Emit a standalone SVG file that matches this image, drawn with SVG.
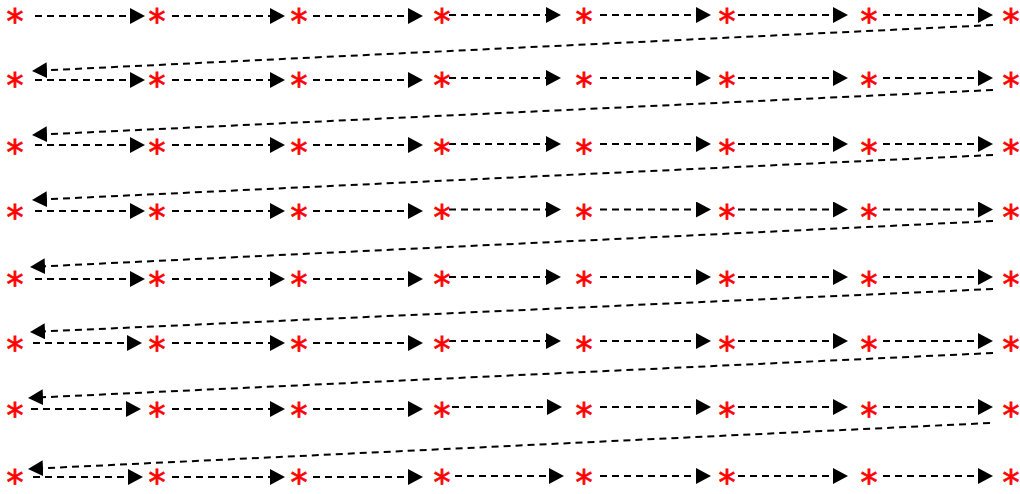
<svg xmlns="http://www.w3.org/2000/svg" width="1020" height="494" viewBox="0 0 1020 494">
<style>
.n text{font-family:"DejaVu Sans",sans-serif;font-size:34px;fill:#ff0000;stroke:#ff0000;stroke-width:0.8;text-anchor:middle}
#edges line{stroke:#000;stroke-width:2;stroke-dasharray:7 5;fill:none;marker-end:url(#ah)}
</style>
<defs>
<marker id="ah" markerUnits="userSpaceOnUse" markerWidth="16" markerHeight="16" viewBox="0 0 16 16" refX="1" refY="8" orient="auto"><path d="M0,0 L15,8 L0,16 z" fill="#000"/></marker>
</defs>
<rect width="1020" height="494" fill="#fff"/>
<g id="edges">
<line x1="35" y1="16" x2="131" y2="16"/><line x1="172" y1="16" x2="271" y2="16"/><line x1="313" y1="16" x2="409" y2="16"/><line x1="449" y1="15" x2="547" y2="15"/><line x1="600" y1="15" x2="697" y2="15"/><line x1="738" y1="15" x2="834" y2="15"/><line x1="883" y1="15" x2="979" y2="15"/>
<line x1="993" y1="25" x2="46" y2="70.3"/>
<line x1="35" y1="80" x2="131" y2="80"/><line x1="172" y1="80" x2="271" y2="80"/><line x1="313" y1="80" x2="409" y2="80"/><line x1="449" y1="78" x2="547" y2="78"/><line x1="600" y1="78" x2="697" y2="78"/><line x1="738" y1="78" x2="834" y2="78"/><line x1="883" y1="78" x2="979" y2="78"/>
<line x1="993" y1="90" x2="46" y2="134.3"/>
<line x1="35" y1="145" x2="131" y2="145"/><line x1="172" y1="145" x2="271" y2="145"/><line x1="313" y1="145" x2="409" y2="145"/><line x1="449" y1="144" x2="547" y2="144"/><line x1="600" y1="144" x2="697" y2="144"/><line x1="738" y1="144" x2="834" y2="144"/><line x1="883" y1="144" x2="979" y2="144"/>
<line x1="993" y1="155" x2="46" y2="199.3"/>
<line x1="35" y1="211" x2="131" y2="211"/><line x1="172" y1="211" x2="271" y2="211"/><line x1="313" y1="211" x2="409" y2="211"/><line x1="449" y1="209.5" x2="547" y2="209.5"/><line x1="600" y1="209.5" x2="697" y2="209.5"/><line x1="738" y1="209.5" x2="834" y2="209.5"/><line x1="883" y1="209.5" x2="979" y2="209.5"/>
<line x1="993" y1="221" x2="44" y2="266.3"/>
<line x1="35" y1="279" x2="131" y2="279"/><line x1="172" y1="279" x2="271" y2="279"/><line x1="313" y1="279" x2="409" y2="279"/><line x1="449" y1="277" x2="547" y2="277"/><line x1="600" y1="277" x2="697" y2="277"/><line x1="738" y1="277" x2="834" y2="277"/><line x1="883" y1="277" x2="979" y2="277"/>
<line x1="993" y1="289" x2="44" y2="331.4"/>
<line x1="33" y1="343" x2="128" y2="343"/><line x1="172" y1="343" x2="271" y2="343"/><line x1="313" y1="343" x2="409" y2="343"/><line x1="449" y1="341" x2="547" y2="341"/><line x1="600" y1="341" x2="697" y2="341"/><line x1="738" y1="341" x2="834" y2="341"/><line x1="883" y1="341" x2="979" y2="341"/>
<line x1="993" y1="353" x2="42" y2="397.3"/>
<line x1="31" y1="409" x2="127" y2="409"/><line x1="172" y1="409" x2="271" y2="409"/><line x1="313" y1="409" x2="409" y2="409"/><line x1="452" y1="407" x2="548" y2="407"/><line x1="600" y1="407" x2="697" y2="407"/><line x1="738" y1="407" x2="834" y2="407"/><line x1="883" y1="407" x2="979" y2="407"/>
<line x1="990" y1="423" x2="42" y2="468.3"/>
<line x1="33" y1="477" x2="129" y2="477"/><line x1="172" y1="477" x2="271" y2="477"/><line x1="313" y1="477" x2="409" y2="477"/><line x1="455" y1="476" x2="550" y2="476"/><line x1="600" y1="476" x2="697" y2="476"/><line x1="738" y1="476" x2="834" y2="476"/><line x1="883" y1="476" x2="979" y2="476"/>
</g>
<g id="r1" class="n"><g id="n1_1"><text x="15" y="33">*</text></g><g id="n1_2"><text x="157" y="33">*</text></g><g id="n1_3"><text x="299" y="33">*</text></g><g id="n1_4"><text x="442" y="33">*</text></g><g id="n1_5"><text x="584" y="33">*</text></g><g id="n1_6"><text x="727" y="33">*</text></g><g id="n1_7"><text x="869" y="33">*</text></g><g id="n1_8"><text x="1011" y="33">*</text></g></g>
<g id="r2" class="n"><g id="n2_1"><text x="15" y="97">*</text></g><g id="n2_2"><text x="157" y="97">*</text></g><g id="n2_3"><text x="299" y="97">*</text></g><g id="n2_4"><text x="442" y="97">*</text></g><g id="n2_5"><text x="584" y="97">*</text></g><g id="n2_6"><text x="727" y="97">*</text></g><g id="n2_7"><text x="869" y="97">*</text></g><g id="n2_8"><text x="1011" y="97">*</text></g></g>
<g id="r3" class="n"><g id="n3_1"><text x="15" y="164">*</text></g><g id="n3_2"><text x="157" y="164">*</text></g><g id="n3_3"><text x="299" y="164">*</text></g><g id="n3_4"><text x="442" y="164">*</text></g><g id="n3_5"><text x="584" y="164">*</text></g><g id="n3_6"><text x="727" y="164">*</text></g><g id="n3_7"><text x="869" y="164">*</text></g><g id="n3_8"><text x="1011" y="164">*</text></g></g>
<g id="r4" class="n"><g id="n4_1"><text x="15" y="229">*</text></g><g id="n4_2"><text x="157" y="229">*</text></g><g id="n4_3"><text x="299" y="229">*</text></g><g id="n4_4"><text x="442" y="229">*</text></g><g id="n4_5"><text x="584" y="229">*</text></g><g id="n4_6"><text x="727" y="229">*</text></g><g id="n4_7"><text x="869" y="229">*</text></g><g id="n4_8"><text x="1011" y="229">*</text></g></g>
<g id="r5" class="n"><g id="n5_1"><text x="15" y="296">*</text></g><g id="n5_2"><text x="157" y="296">*</text></g><g id="n5_3"><text x="299" y="296">*</text></g><g id="n5_4"><text x="442" y="296">*</text></g><g id="n5_5"><text x="584" y="296">*</text></g><g id="n5_6"><text x="727" y="296">*</text></g><g id="n5_7"><text x="869" y="296">*</text></g><g id="n5_8"><text x="1011" y="296">*</text></g></g>
<g id="r6" class="n"><g id="n6_1"><text x="15" y="361">*</text></g><g id="n6_2"><text x="157" y="361">*</text></g><g id="n6_3"><text x="299" y="361">*</text></g><g id="n6_4"><text x="442" y="361">*</text></g><g id="n6_5"><text x="584" y="361">*</text></g><g id="n6_6"><text x="727" y="361">*</text></g><g id="n6_7"><text x="869" y="361">*</text></g><g id="n6_8"><text x="1011" y="361">*</text></g></g>
<g id="r7" class="n"><g id="n7_1"><text x="15" y="427">*</text></g><g id="n7_2"><text x="157" y="427">*</text></g><g id="n7_3"><text x="299" y="427">*</text></g><g id="n7_4"><text x="442" y="427">*</text></g><g id="n7_5"><text x="584" y="427">*</text></g><g id="n7_6"><text x="727" y="427">*</text></g><g id="n7_7"><text x="869" y="427">*</text></g><g id="n7_8"><text x="1011" y="427">*</text></g></g>
<g id="r8" class="n"><g id="n8_1"><text x="15" y="494">*</text></g><g id="n8_2"><text x="157" y="494">*</text></g><g id="n8_3"><text x="299" y="494">*</text></g><g id="n8_4"><text x="442" y="494">*</text></g><g id="n8_5"><text x="584" y="494">*</text></g><g id="n8_6"><text x="727" y="494">*</text></g><g id="n8_7"><text x="869" y="494">*</text></g><g id="n8_8"><text x="1011" y="494">*</text></g></g>
</svg>
